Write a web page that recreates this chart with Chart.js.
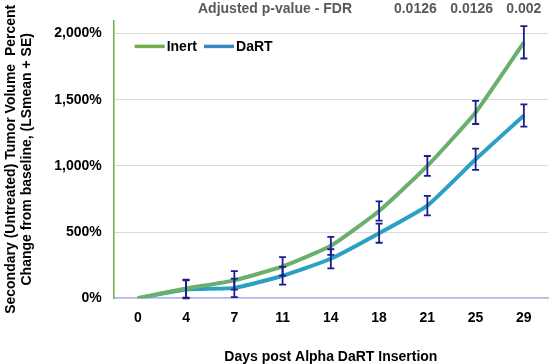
<!DOCTYPE html>
<html>
<head>
<meta charset="utf-8">
<script src="https://cdn.jsdelivr.net/npm/chart.js@4.4.1/dist/chart.umd.min.js"></script>
<style>
    html, body { margin: 0; padding: 0; background: #ffffff; }
    #wrap { width: 552px; height: 364px; }
</style>
</head>
<body>
<div id="wrap"><canvas id="chart" width="552" height="364"></canvas></div>
<script>
// Days post insertion (categories)
const days = ['0', '4', '7', '11', '14', '18', '21', '25', '29'];

// LSmean percent change from baseline
const inertMean = [0, 73, 135, 240, 396, 659, 1000, 1404, 1934];
const dartMean = [0, 66, 78, 170, 298, 491, 700, 1050, 1381];

// Standard errors
const inertSE = [0, 68, 70, 70, 68, 73, 75, 87, 122];
const dartSE = [0, 68, 70, 67, 72, 72, 74, 80, 84];

// y-axis tick values
const yTicks = [0, 500, 1000, 1500, 2000];

// Adjusted p-values (FDR) shown above the chart, one per day
const pValues = ['', '', '', '', '', '', '0.0126', '0.0126', '0.002'];
const pValueTitle = 'Adjusted p-value - FDR';

const FONT = "'Liberation Sans', Arial, sans-serif";

// Draws error bars (mean +/- SE) on top of the lines
const errorBarPlugin = {
    id: 'errorBars',
    afterDatasetsDraw(chart) {
        const ctx = chart.ctx;
        const yScale = chart.scales.y;
        ctx.save();
        ctx.strokeStyle = '#1c1c8e';
        ctx.lineWidth = 1.8;
        chart.data.datasets.forEach((ds, di) => {
            const meta = chart.getDatasetMeta(di);
            ds.errors.forEach((se, i) => {
                if (!se) return;
                const x = meta.data[i].x;
                const yTop = yScale.getPixelForValue(ds.data[i] + se);
                const yBot = yScale.getPixelForValue(ds.data[i] - se);
                ctx.beginPath();
                ctx.moveTo(x, yTop); ctx.lineTo(x, yBot);
                ctx.moveTo(x - 3.5, yTop); ctx.lineTo(x + 3.5, yTop);
                ctx.moveTo(x - 3.5, yBot); ctx.lineTo(x + 3.5, yBot);
                ctx.stroke();
            });
        });
        ctx.restore();
    }
};

// Legend inside the plot area plus the p-value row at the top
const extrasPlugin = {
    id: 'extras',
    afterDraw(chart) {
        const ctx = chart.ctx;
        const area = chart.chartArea;
        const xScale = chart.scales.x;
        ctx.save();

        // legend
        ctx.font = 'bold 14px ' + FONT;
        ctx.textBaseline = 'middle';
        ctx.textAlign = 'left';
        let lx = area.left + 21;
        const ly = area.top + 26;
        chart.data.datasets.forEach(ds => {
            ctx.strokeStyle = ds.legendColor;
            ctx.lineWidth = 3.5;
            ctx.beginPath();
            ctx.moveTo(lx, ly);
            ctx.lineTo(lx + 30, ly);
            ctx.stroke();
            ctx.fillStyle = '#000000';
            ctx.fillText(ds.label, lx + 32, ly + 1);
            lx += 32 + ctx.measureText(ds.label).width + 7;
        });

        // p-values (first one sits a little left of its day, as in the source)
        ctx.fillStyle = '#595959';
        ctx.textAlign = 'right';
        ctx.fillText(pValueTitle, 352, 9);
        ctx.textAlign = 'center';
        pValues.forEach((p, i) => {
            if (!p) return;
            const shift = i === 6 ? -12 : (i === 7 ? -4 : 0);
            ctx.fillText(p, xScale.getPixelForValue(i) + shift, 9);
        });
        ctx.restore();
    }
};

const ctx = document.getElementById('chart').getContext('2d');
new Chart(ctx, {
    type: 'line',
    data: {
        labels: days,
        datasets: [
            {
                label: 'Inert',
                data: inertMean,
                errors: inertSE,
                borderColor: '#68b06c',
                legendColor: '#72ad4b',
                borderWidth: 4,
                pointRadius: 0,
                tension: 0.15,
                fill: false
            },
            {
                label: 'DaRT',
                data: dartMean,
                errors: dartSE,
                borderColor: '#2aa0c2',
                legendColor: '#3c88be',
                borderWidth: 4,
                pointRadius: 0,
                tension: 0.15,
                fill: false
            }
        ]
    },
    options: {
        responsive: false,
        animation: false,
        layout: {
            padding: { top: 18, right: 4, left: 0, bottom: 0 }
        },
        plugins: {
            legend: { display: false },
            tooltip: { enabled: false }
        },
        scales: {
            x: {
                offset: true,
                grid: { color: 'rgba(0,0,0,0)', drawTicks: false },
                border: { display: true, color: '#b4b4f2', width: 1.5 },
                ticks: {
                    padding: 12,
                    color: '#000000',
                    font: { family: FONT, size: 14, weight: 'bold' }
                },
                title: {
                    display: true,
                    text: 'Days post Alpha DaRT Insertion',
                    color: '#000000',
                    font: { family: FONT, size: 14, weight: 'bold', lineHeight: 1 },
                    padding: { top: 11, bottom: 0 }
                }
            },
            y: {
                min: 0,
                max: 2100,
                afterBuildTicks: axis => {
                    axis.ticks = yTicks.map(v => ({ value: v }));
                },
                grid: { color: '#d9d9d9', drawTicks: false },
                border: { display: true, color: '#70ad47', width: 1.5 },
                ticks: {
                    padding: 12,
                    color: '#000000',
                    font: { family: FONT, size: 14, weight: 'bold' },
                    callback: v => v.toLocaleString('en-US') + '%'
                },
                title: {
                    display: true,
                    text: ['Secondary (Untreated) Tumor Volume  Percent', 'Change from baseline, (LSmean + SE)'],
                    color: '#000000',
                    font: { family: FONT, size: 14, weight: 'bold', lineHeight: 1.15 },
                    padding: { top: 3, bottom: 7 }
                }
            }
        }
    },
    plugins: [errorBarPlugin, extrasPlugin]
});
</script>
</body>
</html>
